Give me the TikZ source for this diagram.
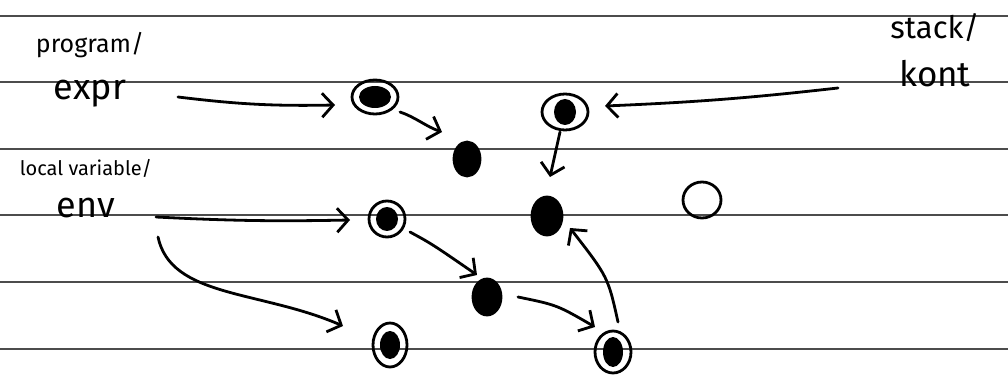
\documentclass[tikz,border=0pt]{standalone}
\usepackage{fontspec}
\setmainfont{Fira Sans}
\usetikzlibrary{arrows.meta,calc,shapes.geometric}
\begin{document}
\begin{tikzpicture}[x=1pt,y=-1pt,
  ruled/.style={line width=1.2pt, black!70},
  ink/.style={line width=2.8pt, line cap=round, line join=round},
  arr/.style={ink, -{Straight Barb[length=11pt,width=24pt,line width=2.8pt]}},
  hand/.style={inner sep=0pt, font=#1},
  ring/.style 2 args={ellipse, draw, ink, inner sep=0pt, minimum width=#1, minimum height=#2},
  blob/.style 2 args={ellipse, draw, fill=black, ink, inner sep=0pt, minimum width=#1, minimum height=#2},
  core/.style 2 args={path picture={\fill[black] (path picture bounding box.center) ellipse ({#1} and {#2});}}
]
\useasboundingbox (0,0) rectangle (1008,379);
% ruled paper
\foreach \yy in {16,82,149,215,282,349}
  \draw[ruled] (0,\yy) -- (1008,\yy);
% labels
\node[hand={\fontsize{25}{28}\selectfont}] (prog) at (90,45) {program/};
\node[hand={\fontsize{36}{40}\selectfont}] (expr) at (90,94) {expr};
\node[hand={\fontsize{20}{23}\selectfont}] (lv) at (86,168) {local variable/};
\node[hand={\fontsize{36}{40}\selectfont}] (env) at (86,208) {env};
\node[hand={\fontsize{31}{34}\selectfont}] (stk) at (935,28) {stack/};
\node[hand={\fontsize{35}{38}\selectfont}] (kont) at (935,74) {kont};
% nodes
\node[ring={46pt}{34pt}, core={16pt}{11pt}] (A) at (375,97) {};
\node[blob={26pt}{34pt}] (B) at (467,159) {};
\node[ring={46pt}{36pt}, core={11pt}{13pt}] (C) at (565,112) {};
\node[blob={30pt}{38pt}] (D) at (547,216) {};
\node[ring={38pt}{36pt}] (E) at (702,200) {};
\node[ring={36pt}{36pt}, core={11pt}{12pt}] (F) at (387,219) {};
\node[blob={28pt}{36pt}] (G) at (487,297) {};
\node[ring={34pt}{44pt}, core={10pt}{14pt}] (H) at (390,345) {};
\node[ring={36pt}{42pt}, core={10pt}{15pt}] (I) at (613,352) {};
% connectors
\draw[arr] ($(expr)+(88,3)$) to[bend right=4] ($(A)+(-40,8)$);
\draw[arr] ($(A)+(25,15)$) .. controls ($(A)+(40,20)$) and ($(B)+(-40,-32)$) .. ($(B)+(-25,-27)$);
\draw[arr] ($(kont)+(-97,14)$) to[bend left=2] ($(C)+(40,-6)$);
\draw[arr] ($(C)+(-5,20)$) -- ($(D)+(3,-39)$);
\draw[arr] ($(env)+(70,9)$) to[bend right=2] ($(F)+(-37,1)$);
\draw[arr] ($(env)+(72,29)$) .. controls ($(env)+(85,90)$) and ($(H)+(-130,-55)$) .. ($(H)+(-47,-19)$);
\draw[arr] ($(F)+(23,13)$) .. controls ($(F)+(45,25)$) .. ($(G)+(-10,-22)$);
\draw[arr] ($(G)+(31,0)$) .. controls ($(G)+(70,8)$) .. ($(I)+(-18,-25)$);
\draw[arr] ($(I)+(5,-30)$) .. controls ($(I)+(-5,-75)$) .. ($(D)+(23,12)$);
\end{tikzpicture}
\end{document}
